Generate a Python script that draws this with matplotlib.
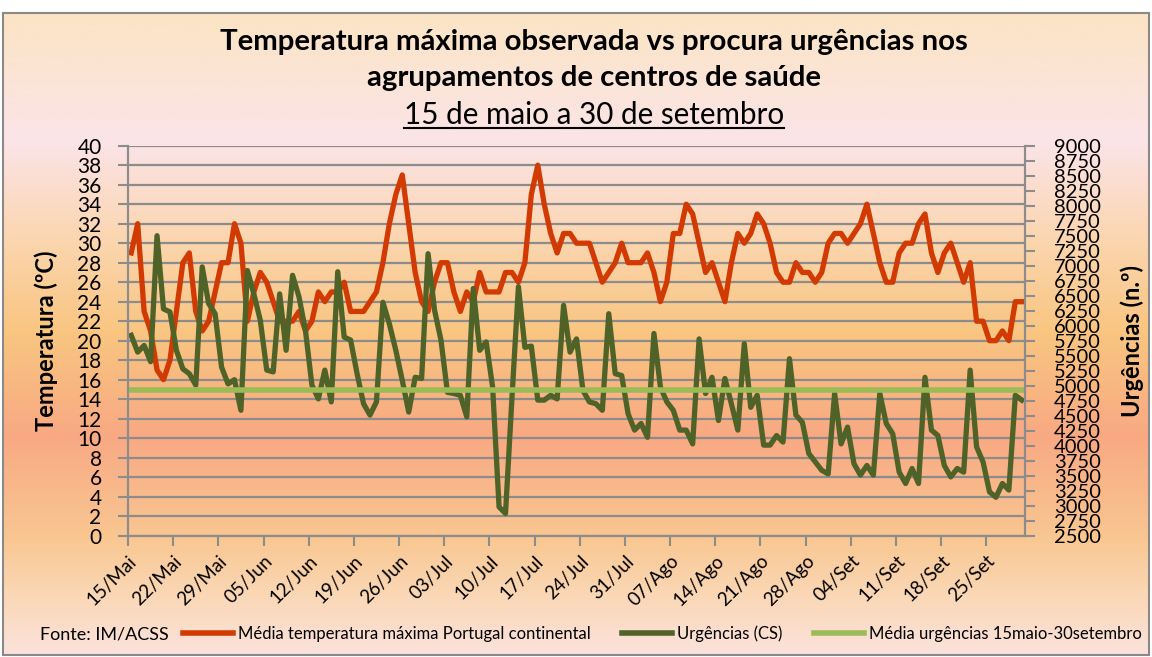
import numpy as np
import matplotlib.pyplot as plt
from matplotlib.lines import Line2D
from matplotlib.patches import Rectangle
from matplotlib.colors import LinearSegmentedColormap

# daily values, 15 May -> 30 Sep
temp_max = [29, 32, 23, 21, 17, 16, 18, 23, 28, 29,
            23, 21, 22, 25, 28, 28, 32, 30, 22, 25,
            27, 26, 24, 22, 22, 22, 23, 21, 22, 25,
            24, 25, 25, 26, 23, 23, 23, 24, 25, 28,
            32, 35, 37, 32, 27, 24, 23, 26, 28, 28,
            25, 23, 25, 24, 27, 25, 25, 25, 27, 27,
            26, 28, 35, 38, 34, 31, 29, 31, 31, 30,
            30, 30, 28, 26, 27, 28, 30, 28, 28, 28,
            29, 27, 24, 26, 31, 31, 34, 33, 30, 27,
            28, 26, 24, 28, 31, 30, 31, 33, 32, 30,
            27, 26, 26, 28, 27, 27, 26, 27, 30, 31,
            31, 30, 31, 32, 34, 31, 28, 26, 26, 29,
            30, 30, 32, 33, 29, 27, 29, 30, 28, 26,
            28, 22, 22, 20, 20, 21, 20, 24, 24]

urgencias = [5840, 5560, 5670, 5400, 7500, 6280, 6230, 5590, 5280, 5200,
             5010, 6980, 6370, 6200, 5310, 5030, 5100, 4590, 6920, 6530,
             6090, 5260, 5230, 6530, 5590, 6840, 6480, 5920, 5010, 4780,
             5260, 4730, 6900, 5810, 5760, 5200, 4700, 4510, 4730, 6390,
             6030, 5590, 5090, 4560, 5140, 5120, 7200, 6260, 5760, 4890,
             4870, 4840, 4480, 6620, 5590, 5730, 4980, 2980, 2870, 4800,
             6650, 5640, 5660, 4760, 4760, 4840, 4780, 6340, 5560, 5780,
             4920, 4730, 4700, 4590, 6200, 5200, 5170, 4530, 4260, 4370,
             4140, 5870, 4980, 4730, 4590, 4260, 4260, 4030, 5780, 4870,
             5140, 4420, 5120, 4700, 4260, 5700, 4640, 4840, 4010, 4010,
             4170, 4060, 5450, 4510, 4390, 3870, 3730, 3590, 3530, 4870,
             4030, 4310, 3700, 3510, 3670, 3510, 4870, 4370, 4200, 3560,
             3370, 3620, 3370, 5140, 4260, 4170, 3670, 3480, 3620, 3560,
             5260, 3980, 3730, 3230, 3140, 3370, 3260, 4840, 4760]

media_urg = 4925

tick_labels = ['15/Mai', '22/Mai', '29/Mai', '05/Jun', '12/Jun', '19/Jun', '26/Jun',
               '03/Jul', '10/Jul', '17/Jul', '24/Jul', '31/Jul', '07/Ago', '14/Ago',
               '21/Ago', '28/Ago', '04/Set', '11/Set', '18/Set', '25/Set']

plt.rcParams['font.family'] = ['Lato', 'DejaVu Sans']

W, H = 1152, 657
fig = plt.figure(figsize=(W / 100, H / 100), dpi=100, facecolor='white')

# chart area gradient background
bg = fig.add_axes([3 / W, 2 / H, 1146 / W, 642 / H], zorder=0)
stops = [(0.0, '#fbe4c4'), (0.2, '#fce4e8'), (0.35, '#fbd6b0'), (0.5, '#f9c580'),
         (0.66, '#f8a983'), (0.82, '#f9c792'), (0.9, '#fad6b2'), (1.0, '#fbe2dc')]
cmap = LinearSegmentedColormap.from_list('bg', stops)
grad = np.linspace(0, 1, 256).reshape(-1, 1)
bg.imshow(grad, cmap=cmap, aspect='auto', extent=[0, 1, 1, 0])
bg.set_axis_off()
fig.patches.append(Rectangle((3 / W, 2 / H), 1146 / W, 642 / H, transform=fig.transFigure,
                             fill=False, edgecolor='#8a8a8a', lw=1.5, zorder=1))

grid_col = '#8c8c8c'
x = np.arange(len(temp_max))

ax = fig.add_axes([128 / W, 1 - 535.7 / H, 897 / W, 390 / H], zorder=2)
ax.set_facecolor('none')
ax.plot(x, temp_max, color='#d23a04', lw=3.8, solid_joinstyle='round', zorder=3)
ax.set_xlim(-0.5, len(x) - 0.5)
ax.set_ylim(0, 40)
ax.set_yticks(range(0, 41, 2))
ax.yaxis.grid(True, color=grid_col, lw=1.6)
ax.set_axisbelow(True)
ax.set_xticks(np.arange(0, len(x), 7) - 0.5)
ax.set_xticklabels(tick_labels, rotation=45, ha='right', va='top',
                   rotation_mode='anchor', fontsize=13.5)
ax.tick_params(axis='x', length=7, width=1.5, color=grid_col, pad=5)
ax.tick_params(axis='y', length=7, width=1.5, color=grid_col, labelsize=15, pad=12)
for s in ax.spines.values():
    s.set_color(grid_col)
    s.set_linewidth(1.5)
ax.spines['top'].set_visible(False)
ax.set_ylabel('Temperatura (ºC)', fontsize=17, fontweight='bold', labelpad=14)

ax2 = ax.twinx()
ax2.plot(x, urgencias, color='#4f6228', lw=3.8, solid_joinstyle='round')
ax2.plot(x, [media_urg] * len(x), color='#9bbb59', lw=4)
ax2.set_ylim(2500, 9000)
ax2.set_yticks(range(2500, 9001, 250))
ax2.tick_params(axis='y', length=7, width=1.5, color=grid_col, labelsize=14.5, pad=14)
for s in ax2.spines.values():
    s.set_color(grid_col)
    s.set_linewidth(1.5)
ax2.spines['top'].set_visible(False)
ax2.set_ylabel('Urgências (n.º)', fontsize=17, fontweight='bold', labelpad=14)

# titles
tx = 594 / W
fig.text(tx, 1 - 42 / H, 'Temperatura máxima observada vs procura urgências nos',
         ha='center', va='center', fontsize=21.2, fontweight='bold')
fig.text(tx, 1 - 78 / H, 'agrupamentos de centros de saúde',
         ha='center', va='center', fontsize=21.2, fontweight='bold')
sub = fig.text(tx, 1 - 115 / H, '15 de maio a 30 de setembro',
               ha='center', va='center', fontsize=21.3)

# legend row
fig.text(40 / W, 1 - 634 / H, 'Fonte: IM/ACSS', ha='left', va='center', fontsize=13)
handles = [Line2D([], [], color='#d23a04', lw=4),
           Line2D([], [], color='#4f6228', lw=4),
           Line2D([], [], color='#9bbb59', lw=4)]
fig.legend(handles, ['Média temperatura máxima Portugal continental', 'Urgências (CS)',
                     'Média urgências 15maio-30setembro'],
           loc='center left', bbox_to_anchor=(183 / W, 1 - 634 / H), ncol=3,
           frameon=False, fontsize=12, handlelength=3.0, handletextpad=0.3,
           columnspacing=1.9, borderpad=0, borderaxespad=0)

# underline for the subtitle
fig.canvas.draw()
bb = sub.get_window_extent().transformed(fig.transFigure.inverted())
fig.lines.append(Line2D([bb.x0, bb.x1], [bb.y0 + 1 / H, bb.y0 + 1 / H],
                        transform=fig.transFigure, color='black', lw=1.5))

fig.savefig('out.png', dpi=100)
